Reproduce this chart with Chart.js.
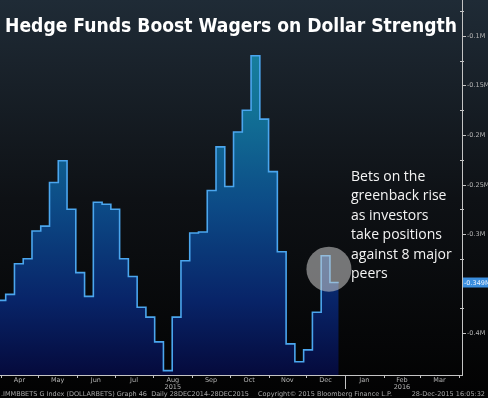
<!DOCTYPE html>
<html>
<head>
<meta charset="utf-8">
<script src="https://cdn.jsdelivr.net/npm/chart.js@4.4.1/dist/chart.umd.min.js"></script>
<style>
  html, body { margin: 0; padding: 0; background: #000; }
  #wrap { width: 488px; height: 398px; }
</style>
</head>
<body>
<div id="wrap"><canvas id="grafico" width="488" height="398"></canvas></div>
<script>
// weekly positioning (millions)
const firstWeek = "2015-03-29";
const lastDate = "2015-12-27";
const netPositions = [
  -0.367, -0.361, -0.330, -0.325, -0.297, -0.292, -0.248, -0.226, -0.275, -0.339,
  -0.363, -0.268, -0.270, -0.275, -0.325, -0.343, -0.374, -0.384, -0.409, -0.438,
  -0.384, -0.327, -0.299, -0.298, -0.256, -0.212, -0.252, -0.197, -0.175, -0.120,
  -0.184, -0.237, -0.318, -0.411, -0.429, -0.417, -0.379, -0.322, -0.349
];
const monthLabels = ["Apr", "May", "Jun", "Jul", "Aug", "Sep", "Oct", "Nov", "Dec", "Jan", "Feb", "Mar"];
const yearLabels = ["2015", "2016"];
const yearUnder = ["Aug", "Feb"];
const yTicks = [-0.1, -0.15, -0.2, -0.25, -0.3, -0.35, -0.4];
const yTickLabels = ["-0.1M", "-0.15M", "-0.2M", "-0.25M", "-0.3M", "-0.35M", "-0.4M"];
const lastLabel = "-0.349M";
const titulo = "Hedge Funds Boost Wagers on Dollar Strength";
const nota = ["Bets on the", "greenback rise", "as investors", "take positions", "against 8 major", "peers"];
const pie = [".IMMBBETS G Index (DOLLARBETS) Graph 46  Daily 28DEC2014-28DEC2015",
             "Copyright\u00a9 2015 Bloomberg Finance L.P.", "28-Dec-2015 16:05:32"];

const DAY = 86400000;
const origen = Date.parse("2015-04-01");
const dia = s => (Date.parse(s) - origen) / DAY;

// puntos del escalon
const puntos = netPositions.map((v, i) => ({ x: dia(firstWeek) + 7 * i, y: v }));
puntos.push({ x: dia(lastDate), y: netPositions[netPositions.length - 1] });

// inicio de cada mes (Apr 2015 .. Apr 2016)
const inicioMes = [];
for (let i = 0; i <= monthLabels.length; i++) {
  inicioMes.push((Date.UTC(2015, 3 + i, 1) - origen) / DAY);
}

const fondo = {
  id: "fondo",
  beforeDraw(chart) {
    const ctx = chart.ctx;
    const g = ctx.createLinearGradient(0, 0, 0, chart.height);
    g.addColorStop(0, "#1f2b36");
    g.addColorStop(0.5, "#0e1115");
    g.addColorStop(1, "#020202");
    ctx.save();
    ctx.fillStyle = g;
    ctx.fillRect(0, 0, chart.width, chart.height);
    ctx.restore();
  }
};

const ejes = {
  id: "ejes",
  afterDraw(chart) {
    const ctx = chart.ctx;
    const a = chart.chartArea;
    const xs = chart.scales.x, ys = chart.scales.y;
    ctx.save();

    // circulo sobre el ultimo repunte
    const n = netPositions.length;
    const cx = xs.getPixelForValue(puntos[n - 1].x) - 1;
    const cy = (ys.getPixelForValue(netPositions[n - 2]) + ys.getPixelForValue(netPositions[n - 1])) / 2;
    ctx.beginPath();
    ctx.arc(cx, cy, 22.5, 0, Math.PI * 2);
    ctx.fillStyle = "rgba(205,205,205,0.55)";
    ctx.fill();

    // eje Y
    ctx.strokeStyle = "#c4c4c4";
    ctx.lineWidth = 1;
    ctx.beginPath();
    ctx.moveTo(a.right + 0.5, 0);
    ctx.lineTo(a.right + 0.5, a.bottom);
    ctx.stroke();
    ctx.font = "6.5px 'DejaVu Sans'";
    ctx.fillStyle = "#b4b4b4";
    ctx.textBaseline = "middle";
    ctx.textAlign = "left";
    yTicks.forEach((v, i) => {
      const y = Math.round(ys.getPixelForValue(v)) + 0.5;
      ctx.beginPath();
      ctx.moveTo(a.right, y);
      ctx.lineTo(a.right + 4, y);
      ctx.stroke();
      ctx.fillText(yTickLabels[i], a.right + 5, y);
      const m = Math.round(ys.getPixelForValue(v + 0.025)) + 0.5;
      ctx.beginPath();
      ctx.moveTo(a.right - 2, m);
      ctx.lineTo(a.right + 2, m);
      ctx.stroke();
    });

    // etiqueta del ultimo valor
    const ly = ys.getPixelForValue(netPositions[n - 1]);
    ctx.fillStyle = "#3b8ede";
    ctx.fillRect(a.right + 1, ly - 5, 26, 10);
    ctx.fillStyle = "#e8f2ff";
    ctx.fillText(lastLabel, a.right + 2, ly + 0.5);

    // eje X
    ctx.beginPath();
    ctx.moveTo(0, a.bottom + 0.5);
    ctx.lineTo(a.right + 1, a.bottom + 0.5);
    ctx.stroke();
    ctx.textAlign = "center";
    ctx.fillStyle = "#b4b4b4";
    inicioMes.forEach((d, i) => {
      const x = Math.round(xs.getPixelForValue(d)) + 0.5;
      const largo = (i === 9) ? 14 : 3;
      ctx.beginPath();
      ctx.moveTo(x, a.bottom);
      ctx.lineTo(x, a.bottom + largo);
      ctx.stroke();
    });
    monthLabels.forEach((m, i) => {
      const x = (xs.getPixelForValue(inicioMes[i]) + xs.getPixelForValue(inicioMes[i + 1])) / 2;
      ctx.fillText(m, x, a.bottom + 5);
      const k = yearUnder.indexOf(m);
      if (k >= 0) ctx.fillText(yearLabels[k], x, a.bottom + 12);
    });

    // pie
    ctx.fillStyle = "#a8a8a8";
    ctx.textAlign = "left";
    ctx.fillText(pie[0], 1, 394);
    ctx.fillText(pie[1], 258, 394);
    ctx.textAlign = "right";
    ctx.fillText(pie[2], 485, 394);

    // titulo
    ctx.font = "bold 19px 'DejaVu Sans'";
    const w = ctx.measureText(titulo).width;
    ctx.textAlign = "left";
    ctx.textBaseline = "alphabetic";
    ctx.fillStyle = "#ffffff";
    ctx.translate(5, 32);
    ctx.scale(452 / w, 1);
    ctx.fillText(titulo, 0, 0);
    ctx.setTransform(1, 0, 0, 1, 0, 0);

    // nota
    ctx.font = "14px 'Open Sans'";
    ctx.fillStyle = "#f4f4f4";
    nota.forEach((t, i) => ctx.fillText(t, 351, 181 + i * 19.4));

    ctx.restore();
  }
};

const ctx = document.getElementById("grafico").getContext("2d");
new Chart(ctx, {
  type: "line",
  data: {
    datasets: [{
      data: puntos,
      stepped: true,
      fill: "start",
      borderColor: "#4ba6ee",
      borderWidth: 1.6,
      pointRadius: 0,
      backgroundColor: (c) => {
        const a = c.chart.chartArea;
        if (!a) return "#0a3a70";
        const g = c.chart.ctx.createLinearGradient(0, a.top, 0, a.bottom);
        g.addColorStop(0, "#1c8aa4");
        g.addColorStop(0.3, "#127196");
        g.addColorStop(0.55, "#0c4a86");
        g.addColorStop(0.8, "#082468");
        g.addColorStop(1, "#050a3c");
        return g;
      }
    }]
  },
  options: {
    responsive: false,
    animation: false,
    layout: { padding: { left: 0, right: 26, top: 0, bottom: 23 } },
    plugins: { legend: { display: false }, tooltip: { enabled: false } },
    scales: {
      x: { type: "linear", display: false, min: -0.55, max: 368.5 },
      y: { display: false, min: -0.44242, max: -0.06364 }
    }
  },
  plugins: [fondo, ejes]
});
</script>
</body>
</html>
